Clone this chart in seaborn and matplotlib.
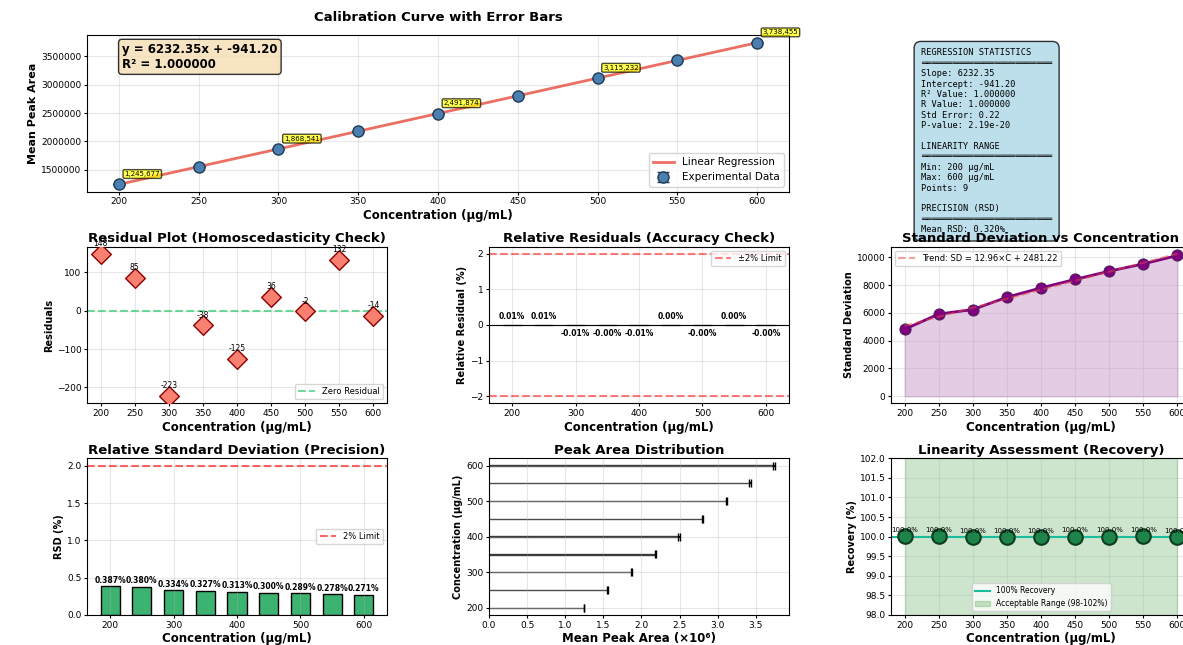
import numpy as np
import pandas as pd
import seaborn as sns
import matplotlib.pyplot as plt
from matplotlib.gridspec import GridSpec

# concentrations (ug/mL) and measured peak areas
conc = [200, 250, 300, 350, 400, 450, 500, 550, 600]
mean_area = [1245677, 1557231, 1868541, 2180343, 2491874,
             2803652, 3115232, 3426983, 3738455]
sd_area = [4821, 5917, 6241, 7130, 7800, 8411, 9003, 9527, 10131]

# regression results as printed on the chart
slope = 6232.35
intercept = -941.20
r_value = 1.000000
std_err = 0.22
p_value = 2.19e-20

df = pd.DataFrame({'conc': conc, 'area': mean_area, 'sd': sd_area})
df['fit'] = slope * df['conc'] + intercept
df['resid'] = df['area'] - df['fit']
df['rel_resid'] = df['resid'] / df['fit'] * 100
df['rsd'] = df['sd'] / df['area'] * 100
df['recovery'] = (df['area'] - intercept) / slope / df['conc'] * 100

plt.rcParams.update({
    'xtick.major.size': 2.5, 'ytick.major.size': 2.5,
    'xtick.major.pad': 1.5, 'ytick.major.pad': 1.5,
    'axes.titlepad': 3, 'axes.labelpad': 2,
})

TITLE = dict(fontsize=9.5, fontweight='bold')
XLAB = dict(fontsize=8.5, fontweight='bold')
YLAB = dict(fontsize=7, fontweight='bold')
XLABEL = 'Concentration (μg/mL)'

fig = plt.figure(figsize=(11.83, 6.45), dpi=100)
gs = GridSpec(3, 3, figure=fig, left=87 / 1183, right=1191 / 1183,
              top=1 - 35 / 645, bottom=1 - 615 / 645, wspace=0.34, hspace=0.35)

# --- calibration curve
ax = fig.add_subplot(gs[0, :2])
sns.lineplot(x=df['conc'], y=df['fit'], ax=ax, color='#e74c3c', lw=2,
             alpha=0.8, label='Linear Regression')
ax.errorbar(df['conc'], df['area'], yerr=df['sd'], fmt='o', markersize=8,
            color='#4a7fb0', markeredgecolor='#1f3b57', ecolor='#1f3b57',
            capsize=4, label='Experimental Data', zorder=3)
for i in range(0, len(conc), 2):
    ax.annotate(f"{mean_area[i]:,}", (conc[i], mean_area[i]), xytext=(4, 6),
                textcoords='offset points', fontsize=5,
                bbox=dict(boxstyle='round,pad=0.2', facecolor='yellow', alpha=0.7))
ax.text(0.05, 0.95, f"y = {slope:.2f}x + {intercept:.2f}\nR² = {r_value**2:.6f}",
        transform=ax.transAxes, fontsize=8.5, fontweight='bold', va='top',
        bbox=dict(boxstyle='round', facecolor='wheat', alpha=0.8))
ax.set_title('Calibration Curve with Error Bars', pad=10, **TITLE)
ax.set_xlabel(XLABEL, **XLAB)
ax.set_ylabel('Mean Peak Area', fontsize=8, fontweight='bold')
ax.set_xticks(conc)
ax.ticklabel_format(style='plain', axis='y')
ax.tick_params(labelsize=6.5)
ax.grid(True, alpha=0.3)
ax.legend(loc='lower right', fontsize=7.5)

# --- stats box
ax_s = fig.add_subplot(gs[0, 2])
ax_s.axis('off')
sep = '═' * 25
stats_text = (
    "REGRESSION STATISTICS\n" + sep + "\n"
    f"Slope: {slope:.2f}\n"
    f"Intercept: {intercept:.2f}\n"
    f"R² Value: {r_value**2:.6f}\n"
    f"R Value: {r_value:.6f}\n"
    f"Std Error: {std_err:.2f}\n"
    f"P-value: {p_value:.2e}\n\n"
    "LINEARITY RANGE\n" + sep + "\n"
    f"Min: {min(conc)} μg/mL\n"
    f"Max: {max(conc)} μg/mL\n"
    f"Points: {len(conc)}\n\n"
    "PRECISION (RSD)\n" + sep + "\n"
    f"Mean RSD: {df['rsd'].mean():.3f}%"
)
ax_s.text(0.1, 0.915, stats_text, transform=ax_s.transAxes, fontsize=6.2,
          family='monospace', va='top',
          bbox=dict(boxstyle='round,pad=0.8', facecolor='lightblue', alpha=0.8))

# --- residual plot
ax = fig.add_subplot(gs[1, 0])
sns.scatterplot(x=df['conc'], y=df['resid'], ax=ax, marker='D', s=100,
                color='salmon', edgecolor='darkred', linewidth=1, zorder=3)
ax.axhline(0, color='#2ecc71', ls='--', lw=1.5, alpha=0.7, label='Zero Residual')
for c, r in zip(df['conc'], df['resid']):
    ax.text(c, r + 15, f"{r:.0f}", ha='center', va='bottom', fontsize=5.5)
ax.set_title('Residual Plot (Homoscedasticity Check)', **TITLE)
ax.set_xlabel(XLABEL, **XLAB)
ax.set_ylabel('Residuals', **YLAB)
ax.set_xticks(conc)
ax.tick_params(labelsize=6.5)
ax.grid(True, alpha=0.3)
ax.legend(loc='lower right', fontsize=6)

# --- relative residuals
ax = fig.add_subplot(gs[1, 1])
bar_cols = ['#2ecc71' if v >= 0 else '#e74c3c' for v in df['rel_resid']]
ax.bar(df['conc'], df['rel_resid'], width=30, color=bar_cols,
       edgecolor='black', alpha=0.7)
ax.axhline(0, color='black', lw=0.8)
ax.axhline(2, color='red', ls='--', alpha=0.5, label='±2% Limit')
ax.axhline(-2, color='red', ls='--', alpha=0.5)
for c, v in zip(df['conc'], df['rel_resid']):
    if v >= 0:
        ax.text(c, v + 0.1, f"{v:.2f}%", ha='center', va='bottom',
                fontsize=5.5, fontweight='bold')
    else:
        ax.text(c, v - 0.1, f"{v:.2f}%", ha='center', va='top',
                fontsize=5.5, fontweight='bold')
ax.set_title('Relative Residuals (Accuracy Check)', **TITLE)
ax.set_xlabel(XLABEL, **XLAB)
ax.set_ylabel('Relative Residual (%)', **YLAB)
ax.tick_params(labelsize=6.5)
ax.grid(True, alpha=0.3)
ax.legend(loc='upper right', fontsize=6)

# --- standard deviation
ax = fig.add_subplot(gs[1, 2])
ax.fill_between(df['conc'], 0, df['sd'], color='purple', alpha=0.2)
sns.lineplot(x=df['conc'], y=df['sd'], ax=ax, color='purple', lw=2,
             marker='o', markersize=8, markeredgecolor='#4a235a')
t_slope, t_int = np.polyfit(df['conc'], df['sd'], 1)
ax.plot(df['conc'], t_slope * df['conc'] + t_int, color='#e74c3c', ls='--',
        alpha=0.5, lw=1.5, label=f"Trend: SD = {t_slope:.2f}×C + {t_int:.2f}")
ax.set_title('Standard Deviation vs Concentration', **TITLE)
ax.set_xlabel(XLABEL, **XLAB)
ax.set_ylabel('Standard Deviation', **YLAB)
ax.set_xticks(conc)
ax.tick_params(labelsize=6.5)
ax.grid(True, alpha=0.3)
ax.legend(loc='upper left', fontsize=6)

# --- RSD
ax = fig.add_subplot(gs[2, 0])
ax.bar(df['conc'], df['rsd'], width=30, color='mediumseagreen',
       edgecolor='black', lw=1)
ax.axhline(2, color='red', ls='--', alpha=0.6, label='2% Limit')
for c, v in zip(df['conc'], df['rsd']):
    ax.text(c, v + 0.02, f"{v:.3f}%", ha='center', va='bottom',
            fontsize=5.5, fontweight='bold')
ax.set_title('Relative Standard Deviation (Precision)', **TITLE)
ax.set_xlabel(XLABEL, **XLAB)
ax.set_ylabel('RSD (%)', **YLAB)
ax.tick_params(labelsize=6.5)
ax.grid(True, alpha=0.3)
ax.legend(loc='center right', fontsize=6)

# --- peak area distribution
ax = fig.add_subplot(gs[2, 1])
ax.barh(df['conc'], df['area'] / 1e6, xerr=df['sd'] / 1e6, color='#555555',
        edgecolor='black', alpha=0.7, capsize=3)
ax.set_title('Peak Area Distribution', **TITLE)
ax.set_xlabel('Mean Peak Area (×10⁶)', **XLAB)
ax.set_ylabel(XLABEL, **YLAB)
ax.tick_params(labelsize=6.5)
ax.grid(True, alpha=0.3)

# --- recovery
ax = fig.add_subplot(gs[2, 2])
ax.fill_between(df['conc'], 98, 102, color='green', alpha=0.2,
                label='Acceptable Range (98-102%)')
ax.axhline(100, color='#1abc9c', lw=1.5, label='100% Recovery')
sns.scatterplot(x=df['conc'], y=df['recovery'], ax=ax, s=110,
                color='#1e8449', edgecolor='#0b3d20', linewidth=1.5, zorder=3)
for c, v in zip(df['conc'], df['recovery']):
    ax.text(c, v + 0.08, f"{v:.1f}%", ha='center', va='bottom', fontsize=5)
ax.set_ylim(98, 102)
ax.set_title('Linearity Assessment (Recovery)', **TITLE)
ax.set_xlabel(XLABEL, **XLAB)
ax.set_ylabel('Recovery (%)', **YLAB)
ax.set_xticks(conc)
ax.tick_params(labelsize=6.5)
ax.grid(True, alpha=0.3)
h, l = ax.get_legend_handles_labels()
ax.legend(h[::-1], l[::-1], loc='lower center', fontsize=5.5)

fig.savefig('out.png', dpi=100)
